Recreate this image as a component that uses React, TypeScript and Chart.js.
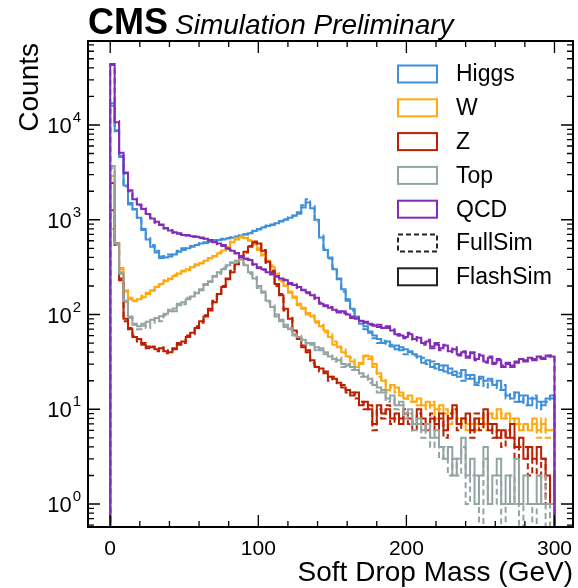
import React, { useEffect, useRef } from 'react';
import { Chart, registerables } from 'chart.js';

Chart.register(...registerables);

// ---------------- data ----------------
const BIN_WIDTH = 3; // GeV, 100 bins from 0 to 300
const X_MIN = -15;
const X_MAX = 312.5;
const Y_MIN = 0.572;
const Y_MAX = 77000;
const X_TICKS = [0, 100, 200, 300];
const X_MINOR_STEP = 20;
const Y_TICK_EXPONENTS = [0, 1, 2, 3, 4];

const CLASS_NAMES = ['Higgs', 'W', 'Z', 'Top', 'QCD'];
const CLASS_COLORS = ['#3f90da', '#ffa90e', '#bd1f01', '#94a4a2', '#832db6'];
const STYLE_NAMES = ['FullSim', 'FlashSim'];

const HIGGS_FLASH = [
  17000, 8600, 4700, 2300, 1450, 1300, 1050, 780, 620, 520,
  450, 395, 400, 410, 430, 460, 480, 500, 520, 540,
  560, 570, 585, 600, 610, 620, 635, 645, 660, 680,
  700, 720, 760, 800, 830, 860, 890, 920, 960, 1000,
  1050, 1100, 1160, 1350, 1520, 1320, 1000, 650, 480, 400,
  300, 235, 185, 140, 115, 95, 85, 75, 66, 60,
  55, 50, 52, 46, 47, 42, 43, 40, 38, 36,
  31, 33, 28, 30, 26, 29, 24, 25, 22, 26,
  21, 23, 19, 22, 20, 21, 18, 20, 16, 14,
  13, 15, 12, 14, 11, 13, 12, 11, 13, 14,
];
const HIGGS_FULL = [
  16000, 8800, 4600, 2250, 1500, 1280, 1020, 800, 640, 540,
  470, 410, 415, 430, 445, 470, 500, 505, 530, 545,
  570, 580, 590, 610, 615, 630, 640, 655, 665, 690,
  705, 730, 765, 790, 840, 870, 880, 930, 970, 1010,
  1060, 1110, 1200, 1420, 1650, 1400, 950, 680, 500, 390,
  310, 240, 175, 145, 110, 92, 80, 70, 64, 56,
  50, 53, 47, 48, 43, 45, 38, 41, 37, 34,
  35, 30, 32, 27, 29, 25, 27, 23, 24, 20,
  23, 21, 18, 21, 17, 20, 19, 16, 18, 13,
  15, 12, 14, 11, 13, 14, 10, 12, 12, 13,
];
const W_FLASH = [
  2900, 560, 300, 175, 150, 140, 145, 152, 165, 180,
  195, 210, 225, 240, 255, 270, 285, 300, 315, 330,
  350, 370, 390, 415, 440, 475, 520, 580, 620, 650,
  640, 600, 560, 500, 430, 370, 320, 270, 230, 200,
  175, 150, 130, 115, 104, 95, 85, 75, 68, 58,
  48, 45, 40, 36, 32, 28, 31, 37, 36, 30,
  24, 20, 16, 18, 17, 15, 13, 14, 12, 13,
  11, 12, 11, 10, 11, 9, 8, 10, 7, 8,
  6, 7, 6, 8, 7, 9, 8, 10, 8, 9,
  7, 8, 6, 7, 6, 8, 6, 7, 6, 6,
];
const W_FULL = [
  800, 540, 310, 180, 145, 138, 148, 158, 170, 178,
  198, 205, 230, 235, 262, 275, 290, 295, 320, 340,
  345, 375, 395, 410, 450, 480, 530, 590, 640, 670,
  650, 610, 550, 480, 420, 360, 330, 275, 225, 205,
  170, 155, 125, 118, 100, 98, 82, 78, 65, 62,
  52, 46, 44, 36, 35, 30, 30, 36, 34, 28,
  22, 21, 15, 17, 15, 14, 13, 12, 12, 11,
  11, 10, 12, 8, 10, 10, 7, 9, 8, 7,
  7, 6, 7, 7, 6, 8, 9, 8, 9, 8,
  8, 7, 7, 6, 7, 7, 5, 8, 5, 5,
];
const Z_FLASH = [
  2450, 560, 230, 90, 70, 58, 55, 48, 46, 45,
  43, 44, 41, 40, 44, 48, 52, 58, 64, 72,
  85, 95, 115, 135, 165, 195, 240, 280, 340, 400,
  460, 520, 580, 560, 470, 360, 280, 210, 160, 115,
  90, 68, 55, 47, 40, 33, 28, 27, 24, 22,
  21, 19, 17, 16, 14, 15, 11, 12, 10, 7,
  11, 9, 10, 8, 9, 7, 9, 8, 7, 10,
  8, 6, 8, 7, 9, 6, 8, 11, 7, 8,
  9, 6, 8, 7, 10, 6, 7, 5, 6, 5,
  7, 4, 5, 3, 4, 3, 4, 3, 2, 1,
];
const Z_FULL = [
  1260, 540, 240, 85, 72, 60, 52, 50, 44, 46,
  41, 45, 39, 42, 43, 50, 50, 60, 62, 75,
  82, 98, 110, 140, 160, 200, 235, 290, 330, 410,
  450, 530, 590, 550, 480, 350, 290, 200, 165, 110,
  95, 65, 57, 45, 42, 31, 29, 25, 25, 20,
  22, 18, 18, 15, 15, 13, 12, 10, 11, 6,
  10, 8, 11, 7, 8, 8, 10, 7, 6, 9,
  7, 7, 9, 6, 8, 5, 9, 10, 6, 7,
  8, 5, 9, 6, 9, 7, 5, 6, 4, 6,
  5, 3, 4, 4, 2, 3, 2, 3, 1, 2,
];
const TOP_FLASH = [
  3700, 560, 270, 140, 95, 78, 75, 80, 84, 88,
  92, 96, 102, 108, 116, 125, 135, 145, 155, 168,
  185, 205, 225, 250, 280, 300, 330, 350, 370, 380,
  330, 280, 240, 200, 170, 140, 120, 100, 85, 78,
  70, 62, 58, 54, 50, 48, 45, 42, 40, 36,
  34, 33, 30, 29, 28, 26, 24, 22, 21, 18,
  17, 15, 13, 14, 11, 12, 9, 10, 7, 8,
  6, 7, 5, 6, 4, 3, 4, 2, 3, 5,
  2, 3, 1, 2, 4, 1, 2, 3, 1, 2,
  1, 3, 1, 2, 1, 1, 2, 1, 1, 1,
];
const TOP_FULL = [
  3500, 540, 280, 135, 92, 80, 70, 76, 72, 80,
  90, 85, 98, 112, 108, 130, 128, 150, 152, 172,
  180, 210, 220, 255, 270, 310, 320, 355, 360, 375,
  340, 270, 250, 190, 175, 135, 125, 95, 88, 74,
  72, 60, 60, 52, 48, 50, 42, 44, 38, 37,
  32, 35, 28, 30, 26, 27, 22, 23, 19, 20,
  15, 16, 12, 13, 10, 11, 8, 9, 6, 7,
  5, 6, 4, 5, 3, 4, 2, 3, 2, 4,
  1, 2, 2, 0, 3, 1, 1, 2, 0, 1,
  2, 1, 0, 1, 1, 0, 1, 2, 0, 1,
];
const QCD_FLASH = [
  44000, 10700, 5100, 3100, 2050, 1650, 1450, 1300, 1150, 1030,
  950, 880, 820, 770, 740, 710, 690, 680, 670, 660,
  650, 630, 610, 580, 560, 530, 500, 470, 445, 410,
  390, 375, 340, 310, 300, 280, 270, 250, 240, 230,
  215, 205, 195, 180, 172, 160, 150, 130, 125, 118,
  112, 105, 108, 100, 95, 90, 86, 82, 80, 76,
  78, 72, 75, 68, 62, 60, 58, 62, 55, 57,
  50, 52, 46, 48, 44, 47, 41, 43, 38, 40,
  36, 39, 34, 37, 32, 35, 31, 33, 28, 30,
  29, 31, 34, 32, 35, 33, 36, 34, 37, 36,
];
const QCD_FULL = [
  43000, 11000, 5000, 3150, 2000, 1680, 1420, 1320, 1130, 1050,
  930, 890, 810, 780, 730, 720, 680, 690, 660, 665,
  640, 635, 600, 590, 550, 540, 490, 480, 440, 415,
  385, 380, 335, 315, 295, 285, 265, 255, 235, 232,
  210, 208, 190, 183, 168, 162, 146, 134, 122, 120,
  108, 108, 104, 102, 92, 92, 84, 84, 78, 78,
  74, 74, 72, 70, 60, 62, 56, 64, 53, 58,
  48, 54, 44, 50, 42, 48, 40, 45, 37, 41,
  35, 40, 33, 38, 31, 36, 30, 34, 29, 31,
  28, 32, 33, 33, 34, 34, 35, 35, 36, 37,
];

const FLASH_SERIES = [HIGGS_FLASH, W_FLASH, Z_FLASH, TOP_FLASH, QCD_FLASH];
const FULL_SERIES = [HIGGS_FULL, W_FULL, Z_FULL, TOP_FULL, QCD_FULL];

// ---------------- helpers ----------------
const FONT = '"Liberation Sans", Arial, Helvetica, sans-serif';
const ZERO_FLOOR = 0.05; // empty bins sit below the axis floor
const DASH = [6, 3.5];

function histPoints(values: number[]) {
  const pts: { x: number; y: number }[] = [{ x: 0, y: ZERO_FLOOR }];
  values.forEach((v, i) => pts.push({ x: i * BIN_WIDTH, y: v > 0 ? v : ZERO_FLOOR }));
  pts.push({ x: values.length * BIN_WIDTH, y: ZERO_FLOOR });
  return pts;
}

const cmsPlugin = {
  id: 'cmsDecor',
  afterDraw(chart: any) {
    const { ctx, chartArea: a, scales } = chart;
    const xs = scales.x;
    const ys = scales.y;
    ctx.save();
    ctx.strokeStyle = '#000';
    ctx.fillStyle = '#000';

    // ticks (inward, all four sides)
    ctx.lineWidth = 1.3;
    ctx.beginPath();
    for (let v = X_TICKS[0]; v <= X_TICKS[X_TICKS.length - 1]; v += X_MINOR_STEP) {
      const major = X_TICKS.includes(v);
      const len = major ? 12 : 6;
      const px = xs.getPixelForValue(v);
      ctx.moveTo(px, a.bottom);
      ctx.lineTo(px, a.bottom - len);
      ctx.moveTo(px, a.top);
      ctx.lineTo(px, a.top + len);
    }
    for (let d = -1; d <= 5; d++) {
      for (let m = 1; m <= 9; m++) {
        const v = m * Math.pow(10, d);
        if (v < Y_MIN || v > Y_MAX) continue;
        const len = m === 1 ? 12 : 6;
        const py = ys.getPixelForValue(v);
        ctx.moveTo(a.left, py);
        ctx.lineTo(a.left + len, py);
        ctx.moveTo(a.right, py);
        ctx.lineTo(a.right - len, py);
      }
    }
    ctx.stroke();

    // frame
    ctx.lineWidth = 2;
    ctx.strokeRect(a.left, a.top, a.right - a.left, a.bottom - a.top);

    // x tick labels
    ctx.font = `21px ${FONT}`;
    ctx.textAlign = 'center';
    ctx.textBaseline = 'alphabetic';
    X_TICKS.forEach((v) => ctx.fillText(String(v), xs.getPixelForValue(v), a.bottom + 28));

    // y tick labels 10^n
    Y_TICK_EXPONENTS.forEach((e) => {
      const py = ys.getPixelForValue(Math.pow(10, e));
      ctx.font = `15px ${FONT}`;
      const ew = ctx.measureText(String(e)).width;
      const right = a.left - 7;
      ctx.textAlign = 'right';
      ctx.fillText(String(e), right, py - 3);
      ctx.font = `22px ${FONT}`;
      ctx.fillText('10', right - ew - 1, py + 8);
    });

    // axis titles
    ctx.font = `28px ${FONT}`;
    ctx.textAlign = 'right';
    ctx.fillText('Soft Drop Mass (GeV)', a.right, 581);
    ctx.save();
    ctx.translate(38, a.top + 2);
    ctx.rotate(-Math.PI / 2);
    ctx.textAlign = 'right';
    ctx.fillText('Counts', 0, 0);
    ctx.restore();

    // title
    ctx.textAlign = 'left';
    ctx.font = `bold 36px ${FONT}`;
    ctx.fillText('CMS', a.left, 34);
    const cw = ctx.measureText('CMS').width;
    ctx.font = `italic 28px ${FONT}`;
    ctx.fillText('Simulation Preliminary', a.left + cw + 7, 34);

    // legend
    const lx = 398;
    const ly0 = 74;
    const step = 33.8;
    const items = [
      ...CLASS_NAMES.map((n, i) => ({ label: n, color: CLASS_COLORS[i], dash: [] as number[] })),
      { label: STYLE_NAMES[0], color: '#222', dash: [5, 3] },
      { label: STYLE_NAMES[1], color: '#222', dash: [] as number[] },
    ];
    ctx.font = `23px ${FONT}`;
    ctx.textBaseline = 'middle';
    items.forEach((it, i) => {
      const cy = ly0 + i * step;
      ctx.strokeStyle = it.color;
      ctx.lineWidth = 2;
      ctx.setLineDash(it.dash);
      ctx.strokeRect(lx, cy - 8.5, 39, 17);
      ctx.setLineDash([]);
      ctx.fillStyle = '#000';
      ctx.textAlign = 'left';
      ctx.fillText(it.label, 456, cy + 1);
    });
    ctx.restore();
  },
};

export default function App() {
  const ref = useRef<HTMLCanvasElement | null>(null);
  useEffect(() => {
    document.body.style.margin = '0';
    if (!ref.current) return;
    const datasets: any[] = [];
    CLASS_NAMES.forEach((name, i) => {
      datasets.push({
        label: `${name} ${STYLE_NAMES[0]}`,
        data: histPoints(FULL_SERIES[i]),
        borderColor: CLASS_COLORS[i],
        borderDash: DASH,
        borderWidth: 2,
        stepped: 'before',
        pointRadius: 0,
        fill: false,
        order: 100 - (i * 2),
      });
      datasets.push({
        label: `${name} ${STYLE_NAMES[1]}`,
        data: histPoints(FLASH_SERIES[i]),
        borderColor: CLASS_COLORS[i],
        borderWidth: 2,
        stepped: 'before',
        pointRadius: 0,
        fill: false,
        order: 100 - (i * 2 + 1),
      });
    });
    const chart = new Chart(ref.current, {
      type: 'line',
      data: { datasets },
      options: {
        animation: false,
        responsive: false,
        devicePixelRatio: 1,
        layout: { padding: { left: 88, top: 41, right: 5, bottom: 61 } },
        scales: {
          x: { type: 'linear', min: X_MIN, max: X_MAX, display: false },
          y: { type: 'logarithmic', min: Y_MIN, max: Y_MAX, display: false },
        },
        plugins: { legend: { display: false }, tooltip: { enabled: false } },
        elements: { point: { radius: 0 }, line: { tension: 0, borderJoinStyle: 'miter' } },
      },
      plugins: [cmsPlugin],
    } as any);
    return () => chart.destroy();
  }, []);
  return (
    <div style={{ width: 578, height: 588, background: '#fff' }}>
      <canvas ref={ref} width={578} height={588} style={{ display: 'block' }} />
    </div>
  );
}
